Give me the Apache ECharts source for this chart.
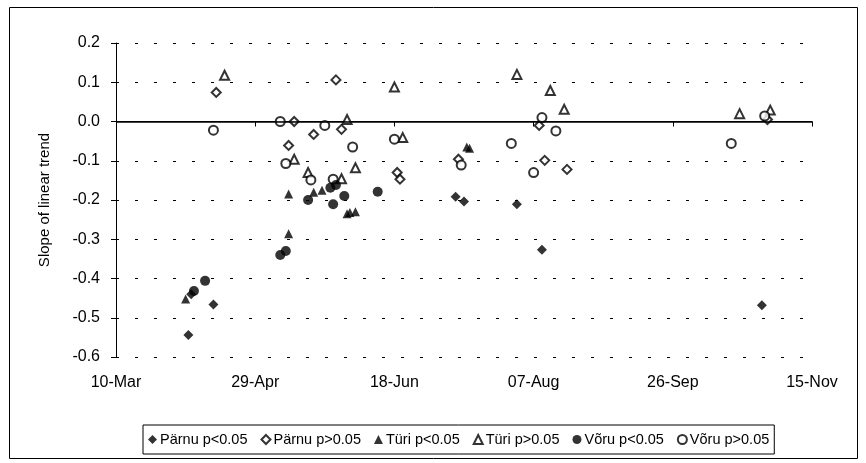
<!DOCTYPE html>
<html>
<head>
<meta charset="utf-8">
<script src="https://cdn.jsdelivr.net/npm/echarts@6/dist/echarts.min.js"></script>
<style>
  html, body { margin: 0; padding: 0; background: #fff; }
  #chart { width: 866px; height: 463px; }
</style>
</head>
<body>
<div id="chart"></div>
<script>
// x tick labels, one every 50 days from 10-Mar
const tickLabels = ['10-Mar', '29-Apr', '18-Jun', '07-Aug', '26-Sep', '15-Nov'];

// [date (MM-DD), slope]
const parnuSig = [
  ['04-05', -0.544], ['04-06', -0.44], ['04-14', -0.466],
  ['07-10', -0.192], ['07-13', -0.204], ['08-01', -0.211],
  ['08-10', -0.327], ['10-28', -0.468]
];
const parnuNs = [
  ['04-15', 0.074], ['05-13', 0.0], ['05-11', -0.061], ['05-28', 0.106],
  ['05-20', -0.033], ['05-30', -0.02], ['06-19', -0.13], ['06-20', -0.147],
  ['07-11', -0.096], ['08-09', -0.01], ['08-11', -0.099], ['08-19', -0.122],
  ['10-30', 0.005]
];
const turiSig = [
  ['04-04', -0.452], ['05-11', -0.185], ['05-11', -0.286], ['05-20', -0.18],
  ['05-23', -0.175], ['06-01', -0.235], ['06-02', -0.232], ['06-04', -0.23],
  ['07-14', -0.065], ['07-15', -0.068]
];
const turiNs = [
  ['04-18', 0.118], ['05-13', -0.096], ['06-01', 0.005], ['06-18', 0.088],
  ['06-21', -0.041], ['06-04', -0.118], ['05-18', -0.13], ['05-30', -0.146],
  ['08-01', 0.12], ['08-13', 0.079], ['08-18', 0.031], ['10-20', 0.02],
  ['10-31', 0.029]
];
const voruSig = [
  ['04-07', -0.432], ['04-11', -0.406], ['05-08', -0.34], ['05-10', -0.33],
  ['05-18', -0.2], ['05-26', -0.169], ['05-28', -0.162], ['05-27', -0.211],
  ['05-31', -0.19], ['06-12', -0.179]
];
const voruNs = [
  ['04-14', -0.022], ['05-08', 0.0], ['05-10', -0.107], ['05-24', -0.01],
  ['06-03', -0.065], ['06-18', -0.045], ['05-19', -0.149], ['05-27', -0.147],
  ['07-12', -0.111], ['07-30', -0.056], ['08-10', 0.01], ['08-15', -0.024],
  ['08-07', -0.13], ['10-17', -0.056], ['10-29', 0.014]
];

function dayOf(md) {
  const [m, d] = md.split('-').map(Number);
  return (Date.UTC(2001, m - 1, d) - Date.UTC(2001, 2, 10)) / 86400000;
}
function pts(list) {
  return list.map(p => [dayOf(p[0]), p[1]]);
}

const font = 'Liberation Sans, Arial, sans-serif';
const chart = echarts.init(document.getElementById('chart'));

function ser(name, symbol, data, size, extra) {
  const empty = symbol.indexOf('empty') === 0;
  return Object.assign({
    name: name,
    type: 'scatter',
    symbol: symbol,
    symbolSize: size,
    data: pts(data),
    itemStyle: empty
      ? { color: '#000', borderColor: '#000', borderWidth: 1.6 }
      : { color: '#000' },
    emphasis: { disabled: true },
    z: empty ? 3 : 4
  }, extra || {});
}

chart.setOption({
  animation: false,
  backgroundColor: '#fff',
  textStyle: { fontFamily: font },
  graphic: [{
    type: 'rect',
    shape: { x: 9.5, y: 7.5, width: 848, height: 451 },
    style: { fill: 'none', stroke: '#000', lineWidth: 1 },
    silent: true
  }],
  grid: { left: 116, right: 54, top: 43, bottom: 106 },
  legend: {
    left: 143,
    top: 425,
    orient: 'horizontal',
    itemWidth: 9,
    itemHeight: 9,
    itemGap: 13,
    padding: [7, 5],
    borderColor: '#000',
    borderWidth: 1,
    borderRadius: 0,
    textStyle: { fontSize: 14.5, color: '#000', fontFamily: font, padding: [0, 0, 0, -2] },
    data: ['Pärnu p<0.05', 'Pärnu p>0.05', 'Türi p<0.05', 'Türi p>0.05', 'Võru p<0.05', 'Võru p>0.05']
  },
  xAxis: {
    type: 'value',
    min: 0,
    max: 250,
    interval: 50,
    axisLine: { lineStyle: { color: '#000', width: 1 } },
    axisTick: { show: true, length: 5, lineStyle: { color: '#000' } },
    axisLabel: {
      color: '#000', fontSize: 16, margin: 18,
      formatter: v => tickLabels[Math.round(v / 50)]
    },
    splitLine: { show: false }
  },
  yAxis: {
    type: 'value',
    min: -0.6,
    max: 0.2,
    interval: 0.1,
    name: 'Slope of linear trend',
    nameLocation: 'middle',
    nameGap: 64,
    nameTextStyle: { fontSize: 15, color: '#000' },
    axisLine: { show: true, lineStyle: { color: '#000', width: 1 } },
    axisTick: { show: true, length: 5, lineStyle: { color: '#000' } },
    axisLabel: {
      color: '#000', fontSize: 16, margin: 16,
      formatter: v => (Math.abs(v) < 1e-9 ? 0 : v).toFixed(1)
    },
    splitLine: { show: true, lineStyle: { color: '#000', width: 1, type: [3, 16] } }
  },
  series: [
    ser('Pärnu p<0.05', 'diamond', parnuSig, 10, {
      markLine: {
        silent: true,
        symbol: 'none',
        label: { show: false },
        lineStyle: { color: '#000', width: 1.6, type: 'solid' },
        data: [{ yAxis: 0 }]
      }
    }),
    ser('Pärnu p>0.05', 'emptyDiamond', parnuNs, 9),
    ser('Türi p<0.05', 'triangle', turiSig, 9),
    ser('Türi p>0.05', 'emptyTriangle', turiNs, 9),
    ser('Võru p<0.05', 'circle', voruSig, 10),
    ser('Võru p>0.05', 'emptyCircle', voruNs, 9)
  ]
});
</script>
</body>
</html>
